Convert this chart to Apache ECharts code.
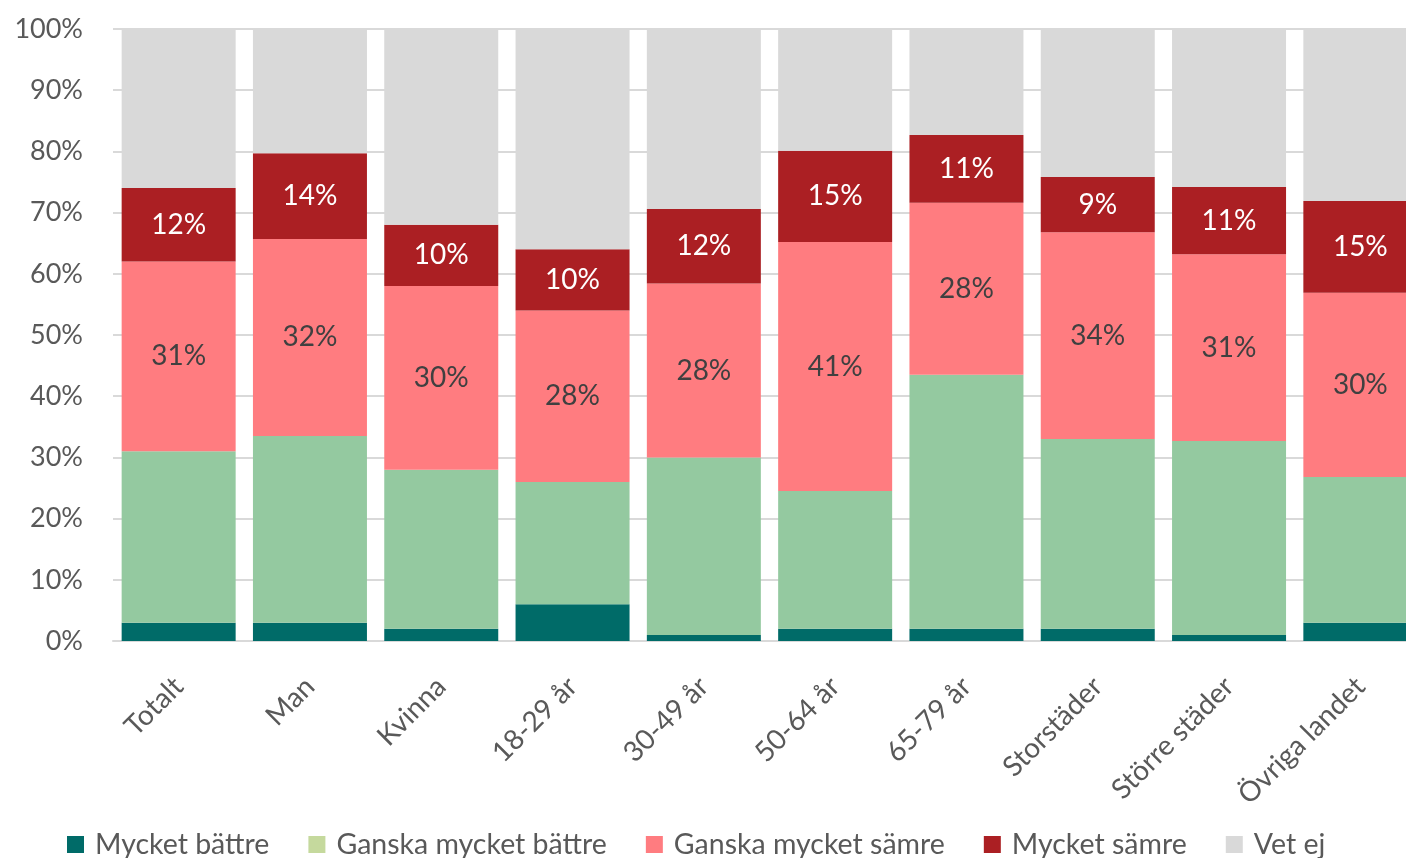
<!DOCTYPE html>
<html><head><meta charset="utf-8">
<script src="https://cdn.jsdelivr.net/npm/echarts@6/dist/echarts.min.js"></script>
<style>html,body{margin:0;padding:0;background:#fff;overflow:hidden;width:1406px;height:858px}#c{width:1430px;height:858px}</style>
</head><body><div id="c"></div>
<script>
const categories = ['Totalt','Man','Kvinna','18-29 år','30-49 år','50-64 år','65-79 år','Storstäder','Större städer','Övriga landet'];
const mycketBattre = [3, 3, 2, 6, 1, 2, 2, 2, 1, 3];
const ganskaBattre = [28, 30.5, 26, 20, 29, 22.5, 41.5, 31, 31.7, 23.8];
const ganskaSamre = [31, 32.2, 30, 28, 28.4, 40.7, 28.1, 33.8, 30.5, 30.1];
const mycketSamre = [12, 14, 10, 10, 12.2, 14.9, 11.1, 9, 11, 15];
const vetEj = categories.map((_, i) => +(100 - mycketBattre[i] - ganskaBattre[i] - ganskaSamre[i] - mycketSamre[i]).toFixed(1));
const yTicks = [0,10,20,30,40,50,60,70,80,90,100];

const font = 'Lato, "Open Sans", sans-serif';
const chart = echarts.init(document.getElementById('c'));
function s(name, data, color, label) {
  return {
    name, type: 'bar', stack: 't', data, barWidth: 114,
    itemStyle: { color },
    label: label ? { show: true, position: 'inside', color: label, fontSize: 28, fontFamily: font,
      formatter: p => Math.round(p.value) + '%' } : { show: false },
    emphasis: { disabled: true }
  };
}
chart.setOption({
  animation: false,
  grid: { left: 113, top: 29, width: 1313, height: 612, containLabel: false },
  xAxis: {
    type: 'category', data: categories,
    axisLine: { lineStyle: { color: '#d9d9d9', width: 2 } },
    axisTick: { show: false },
    axisLabel: { rotate: 45, color: '#595959', fontSize: 28, fontFamily: font, margin: 41, interval: 0 }
  },
  yAxis: {
    type: 'value', min: 0, max: 100, interval: 10,
    axisLine: { show: false }, axisTick: { show: false },
    splitLine: { lineStyle: { color: '#d9d9d9', width: 2 } },
    axisLabel: { color: '#595959', fontSize: 27, fontFamily: font, margin: 30,
      formatter: v => yTicks.includes(v) ? v + '%' : '' }
  },
  legend: {
    bottom: -6, left: 62, itemWidth: 17, itemHeight: 17, itemGap: 39, icon: 'rect',
    textStyle: { color: '#595959', fontSize: 28.5, fontFamily: font, padding: [0, 0, 0, 6] },
    data: [
      { name: 'Mycket bättre' },
      { name: 'Ganska mycket bättre', itemStyle: { color: '#c5d99d' } },
      { name: 'Ganska mycket sämre' },
      { name: 'Mycket sämre' },
      { name: 'Vet ej' }
    ]
  },
  series: [
    s('Mycket bättre', mycketBattre, '#006b68'),
    s('Ganska mycket bättre', ganskaBattre, '#94c9a0'),
    s('Ganska mycket sämre', ganskaSamre, '#ff7c80', '#404040'),
    s('Mycket sämre', mycketSamre, '#ab1f23', '#ffffff'),
    s('Vet ej', vetEj, '#d9d9d9')
  ]
});
</script></body></html>
